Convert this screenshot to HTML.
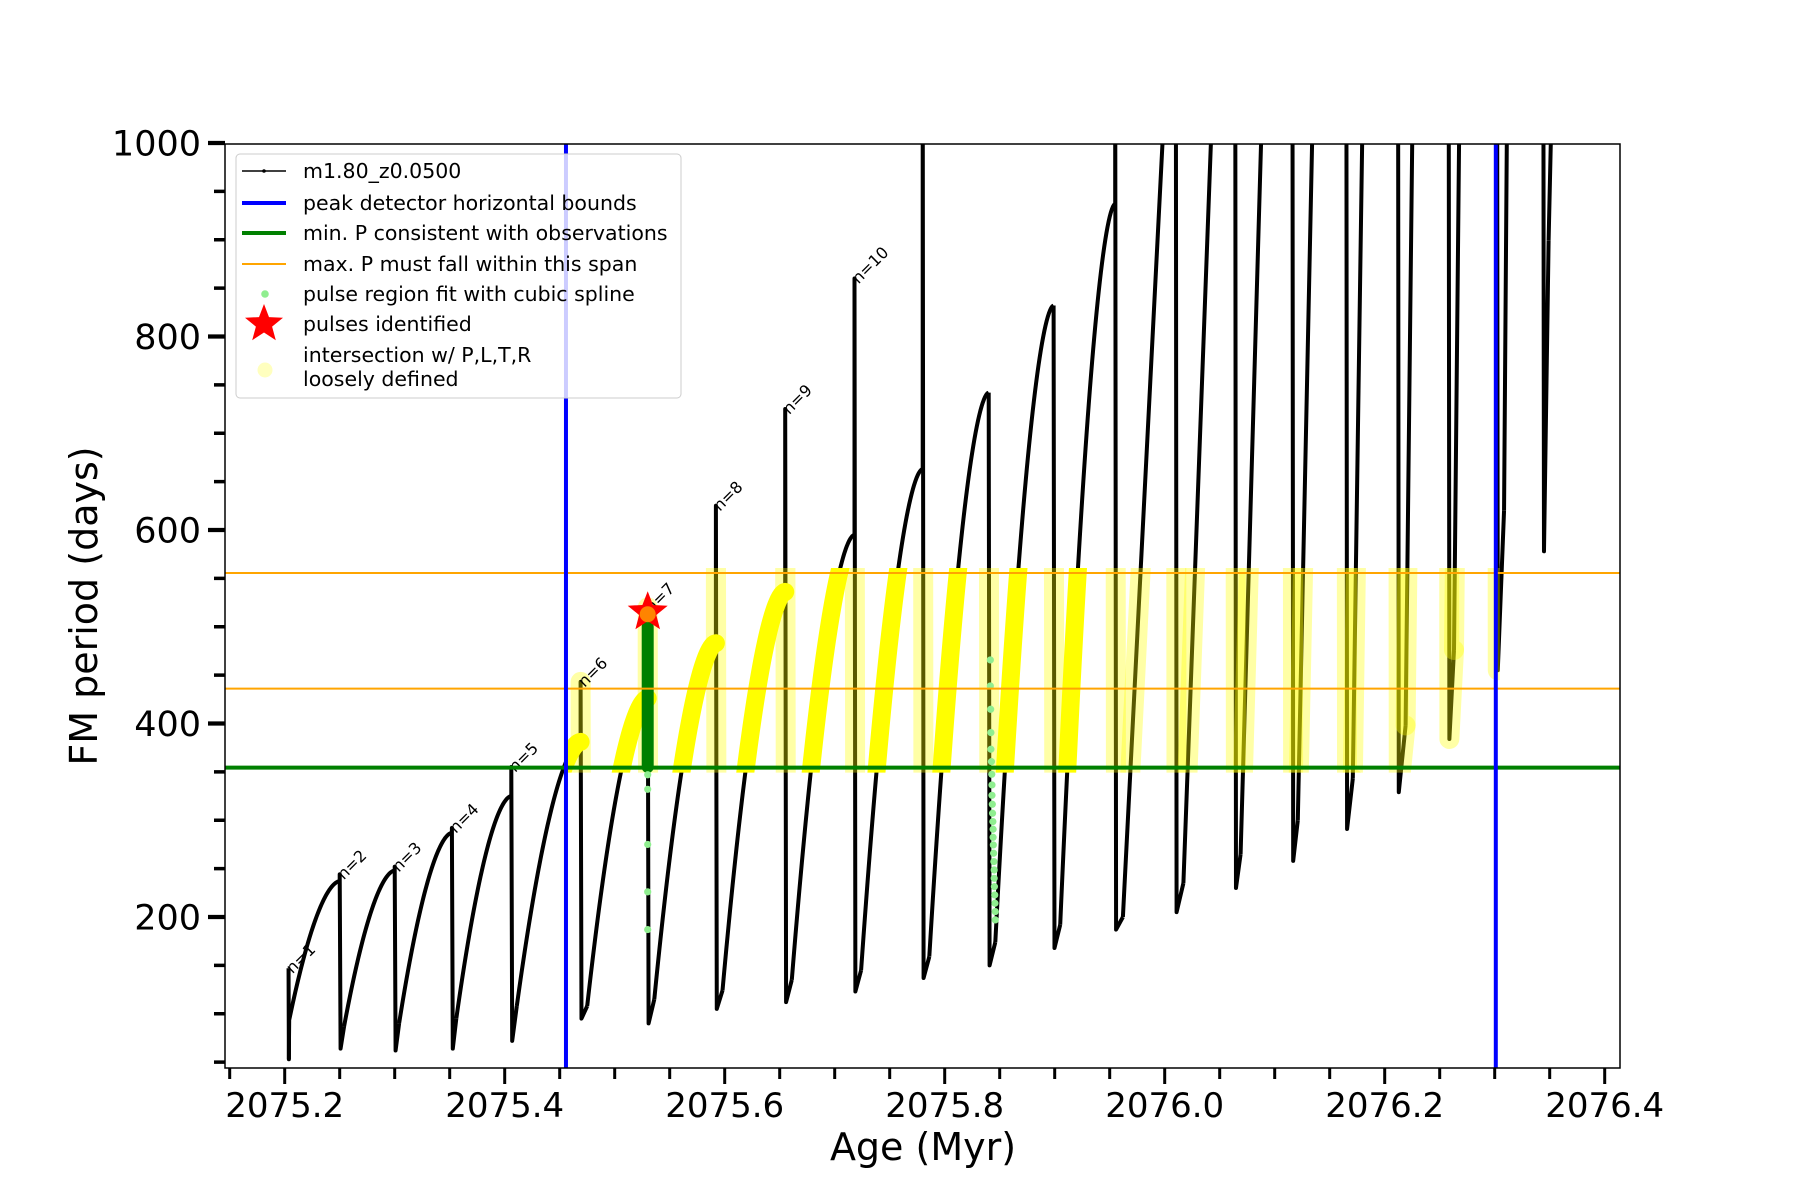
<!DOCTYPE html>
<html><head><meta charset="utf-8"><style>
html,body{margin:0;padding:0;background:#fff;}
svg{display:block;font-family:"DejaVu Sans","Liberation Sans",sans-serif;}
</style></head><body>
<svg id="chart" width="1800" height="1200" viewBox="0 0 1800 1200" xmlns="http://www.w3.org/2000/svg">
<defs>
<clipPath id="axclip"><rect x="225" y="144" width="1395" height="924"/></clipPath>
<clipPath id="yclip"><rect id="yclipRect" x="0" y="0" width="0" height="0"/></clipPath>
</defs>
<rect x="225" y="144" width="1395" height="924" fill="#fff"/>
<g id="curveLayer" clip-path="url(#axclip)"></g>
<g id="yellowLayer" clip-path="url(#yclip)"></g>
<g id="markLayer" clip-path="url(#axclip)"></g>
<g id="refLayer" clip-path="url(#axclip)"></g>
<rect x="225" y="144" width="1395" height="924" fill="none" stroke="#000" stroke-width="1.5"/>
<g id="axisLayer"></g>
<text x="923" y="1160" font-size="38" text-anchor="middle">Age (Myr)</text>
<text transform="translate(97,606) rotate(-90)" font-size="38" text-anchor="middle">FM period (days)</text>
<g>
<rect x="236" y="154" width="445" height="244" rx="4" fill="#fff" fill-opacity="0.8" stroke="#ccc" stroke-width="1"/>
<g><line x1="242" y1="171" x2="286" y2="171" stroke="#000" stroke-width="1.5"/><circle cx="264" cy="171" r="1.8" fill="#000"/><text x="303" y="178" font-size="20.5">m1.80_z0.0500</text></g>
<g><line x1="242" y1="203" x2="286" y2="203" stroke="#00f" stroke-width="4"/><text x="303" y="210" font-size="20.5">peak detector horizontal bounds</text></g>
<g><line x1="242" y1="233" x2="286" y2="233" stroke="#008000" stroke-width="4"/><text x="303" y="240" font-size="20.5">min. P consistent with observations</text></g>
<g><line x1="242" y1="264" x2="286" y2="264" stroke="#ffa500" stroke-width="2"/><text x="303" y="271" font-size="20.5">max. P must fall within this span</text></g>
<g><circle cx="265" cy="294" r="3.8" fill="#90ee90"/><text x="303" y="301" font-size="20.5">pulse region fit with cubic spline</text></g>
<g><polygon id="legStar" fill="#f00"/><text x="303" y="331" font-size="20.5">pulses identified</text></g>
<g><circle cx="265" cy="370" r="7.5" fill="#ffff00" fill-opacity="0.25"/><text x="303" y="362" font-size="20.5">intersection w/ P,L,T,R</text><text x="303" y="386" font-size="20.5">loosely defined</text></g>
</g>
</svg>
<script>
// ---- data ----
const leadAges = [2075.2035, 2075.2038];
const leadVals = [147, 53];
const cycStart = [2075.204,2075.254,2075.304,2075.356,2075.411,2075.475,2075.536,2075.598,2075.661,2075.724,2075.786,2075.846,2075.905,2075.962,2076.017,2076.069,2076.121,2076.171,2076.219,2076.263,2076.3085,2076.349];
const cycStartVal = [93,87,90,95,108,108,115,124,135,145,159,174,192,200,235,265,300,343,398,476,620,899];
const cycTop = [null,null,null,null,null,null,null,null,null,null,null,null,null,2075.998,2076.042,2076.0876,2076.134,2076.1795,2076.225,2076.2676,2076.311,2076.351];
const cycDrop = [2075.250,2075.300,2075.352,2075.406,2075.469,2075.530,2075.592,2075.655,2075.718,2075.780,2075.840,2075.899,2075.955,2076.010,2076.064,2076.116,2076.165,2076.212,2076.258,2076.302,2076.344,null];
const cycPeak = [237,248,287,325,381,426,483,536,595,663,742,832,937,1300,1300,1300,1300,1300,1300,1300,1300,1300];
const cycSpike = [244,252,292,355,443,520,625,725,860,1100,742,832,1100,1300,1300,1300,1300,1300,1300,1300,1300,1300];
const cycMin = [64,62,64,72,95,90,105,112,123,137,150,168,187,205,230,258,291,329,384,455,578,null];
const labelText = ["n=1","n=2","n=3","n=4","n=5","n=6","n=7","n=8","n=9","n=10"];
const boundAges = [2075.4557, 2076.301];
const minP = 354.4;
const maxPSpan = [436, 555.6];
const pulseAge = 2075.530;
const pulseVal = 515;
const pulseColumn = [355, 500];
const splineAgesA = [2075.530,2075.530,2075.530,2075.530,2075.530];
const splineValsA = [347,332,275,226,187];
const splineAgesB = [2075.8415,2075.8415,2075.8418,2075.842,2075.842,2075.8425,2075.8428,2075.843,2075.843,2075.8433,2075.8435,2075.8438,2075.844,2075.844,2075.8442,2075.8445,2075.8447,2075.845,2075.845,2075.8452,2075.8455,2075.8457,2075.846,2075.846];
const splineValsB = [465.7,438.8,414.7,390.6,373.4,360.6,347.5,336.5,325.8,316.5,307.2,298.6,290.7,282.4,274.5,265.9,257.3,248.6,240,231.4,222.8,214.2,205.6,197];
const xMajor = [2075.2,2075.4,2075.6,2075.8,2076.0,2076.2,2076.4];
const xMajorLabels = ["2075.2","2075.4","2075.6","2075.8","2076.0","2076.2","2076.4"];
const xMinor = [2075.15,2075.25,2075.3,2075.35,2075.45,2075.5,2075.55,2075.65,2075.7,2075.75,2075.85,2075.9,2075.95,2076.05,2076.1,2076.15,2076.25,2076.3,2076.35];
const yMajor = [200,400,600,800,1000];
const yMajorLabels = ["200","400","600","800","1000"];
const yMinor = [50,100,150,250,300,350,450,500,550,650,700,750,850,900,950];

// ---- axes ----
const X = t => 284.7 + (t - 2075.2) * 1100;
const Y = v => 143 + (1000 - v) * 0.9675;
const NS = "http://www.w3.org/2000/svg";
function mk(tag, parent, attrs){ const e=document.createElementNS(NS,tag); for(const k in attrs) e.setAttribute(k,attrs[k]); parent.appendChild(e); return e; }
const curveLayer=document.getElementById('curveLayer');
const yellowLayer=document.getElementById('yellowLayer');
const markLayer=document.getElementById('markLayer');
const refLayer=document.getElementById('refLayer');
const axisLayer=document.getElementById('axisLayer');

const yc=document.getElementById('yclipRect');
yc.setAttribute('x', X(boundAges[0])); yc.setAttribute('width', X(boundAges[1]) - X(boundAges[0]) + 4);
yc.setAttribute('y', Y(maxPSpan[1]) - 5); yc.setAttribute('height', Y(minP) - Y(maxPSpan[1]) + 10);

const segs=[];
let prev=[[leadAges[0],leadVals[0]],[leadAges[1],leadVals[1]]];
for(let i=0;i<cycStart.length;i++){
  const rise=[];
  if(prev) rise.push(prev[prev.length-1]);
  const t0=cycStart[i], v0=cycStartVal[i];
  if(cycTop[i]===null){
    const N=50;
    for(let k=0;k<=N;k++){const u=k/N; rise.push([t0+(cycDrop[i]-t0)*u, v0+(cycPeak[i]-v0)*(1-Math.pow(1-u,1.75))]);}
    segs.push({pts:rise,kind:'rise'});
  } else {
    rise.push([t0,v0]); rise.push([cycTop[i],1000]);
    if(cycDrop[i]!==null) rise.push([cycDrop[i],cycPeak[i]]); else rise.push([cycTop[i]+0.002,1100]);
    segs.push({pts:rise,kind:'steep'});
  }
  if(i===0) segs.unshift({pts:prev.concat([[t0,v0]]),kind:'steep'});
  if(cycDrop[i]!==null){
    const d=[[cycDrop[i],cycPeak[i]],[cycDrop[i],cycSpike[i]],[cycDrop[i]+0.0008,cycMin[i]]];
    if(i+1<cycStart.length) d.push([cycStart[i+1],cycStartVal[i+1]]);
    segs.push({pts:d,kind:'steep'});
    prev=null;
  }
}
const ptsStr=p=>p.map(q=>X(q[0]).toFixed(2)+','+Y(q[1]).toFixed(2)).join(' ');
segs.forEach((s,i)=>{
  const pl=mk('polyline',curveLayer,{points:ptsStr(s.pts),fill:'none',stroke:'#000','stroke-width':4,'stroke-linejoin':'round'});
  
  
});
segs.forEach(s=>{
  const pl=mk('polyline',yellowLayer,{points:ptsStr(s.pts),fill:'none',stroke:'#ffff00','stroke-width':s.kind==='rise'?18:20,'stroke-linecap':'round','stroke-linejoin':'round','stroke-opacity':s.kind==='rise'?1:0.35});
  
  
});

const labelPts=[[leadAges[0],leadVals[0]]];
for(let i=0;i<labelText.length-1;i++) labelPts.push([cycDrop[i],cycSpike[i]]);
labelPts.forEach((p,i)=>{
  const tx=mk('text',markLayer,{transform:`translate(${X(p[0])+4},${Y(p[1])+6}) rotate(-45)`,'font-size':16});
  tx.textContent=labelText[i];
  
  
});

const col=mk('line',markLayer,{x1:X(pulseAge),x2:X(pulseAge),y1:Y(pulseColumn[0]),y2:Y(pulseColumn[1]),stroke:'#008000','stroke-width':12,'stroke-linecap':'round'});


function dots(ages,vals){ ages.forEach((a,i)=>{ const c=mk('circle',markLayer,{cx:X(a),cy:Y(vals[i]),r:3.6,fill:'#90ee90'});   }); }
dots(splineAgesA,splineValsA); dots(splineAgesB,splineValsB);
function starPts(cx,cy,R,r){const a=[];for(let k=0;k<10;k++){const ang=-Math.PI/2+k*Math.PI/5;const rr=k%2?r:R;a.push((cx+rr*Math.cos(ang)).toFixed(1)+','+(cy+rr*Math.sin(ang)).toFixed(1));}return a.join(' ');}
const st=mk('polygon',markLayer,{points:starPts(X(pulseAge),Y(pulseVal),21,9),fill:'#ff0000'});


const sc=mk('circle',markLayer,{cx:X(pulseAge),cy:Y(pulseVal)+2,r:8,fill:'#ffa500','fill-opacity':0.8});


document.getElementById('legStar').setAttribute('points',starPts(264,324,20,8.5));

maxPSpan.forEach(v=>{const l=mk('line',refLayer,{x1:225,x2:1620,y1:Y(v),y2:Y(v),stroke:'#ffa500','stroke-width':2});});
const gl=mk('line',refLayer,{x1:225,x2:1620,y1:Y(minP),y2:Y(minP),stroke:'#008000','stroke-width':4});


boundAges.forEach(a=>{const l=mk('line',refLayer,{x1:X(a),x2:X(a),y1:144,y2:1068,stroke:'#0000ff','stroke-width':4});});

xMajor.forEach((t,i)=>{const l=mk('line',axisLayer,{x1:X(t),x2:X(t),y1:1068,y2:1084,stroke:'#000','stroke-width':3});
 const tx=mk('text',axisLayer,{x:X(t),y:1117,'font-size':34,'text-anchor':'middle'});tx.textContent=xMajorLabels[i];});
xMinor.forEach(t=>{const l=mk('line',axisLayer,{x1:X(t),x2:X(t),y1:1068,y2:1079,stroke:'#000','stroke-width':3});});
yMajor.forEach((v,i)=>{const l=mk('line',axisLayer,{x1:208,x2:225,y1:Y(v),y2:Y(v),stroke:'#000','stroke-width':4.3});
 const tx=mk('text',axisLayer,{x:201,y:Y(v)+12.5,'font-size':35,'text-anchor':'end'});tx.textContent=yMajorLabels[i];});
yMinor.forEach(v=>{const l=mk('line',axisLayer,{x1:214,x2:225,y1:Y(v),y2:Y(v),stroke:'#000','stroke-width':3.5});});
</script>
</body></html>
